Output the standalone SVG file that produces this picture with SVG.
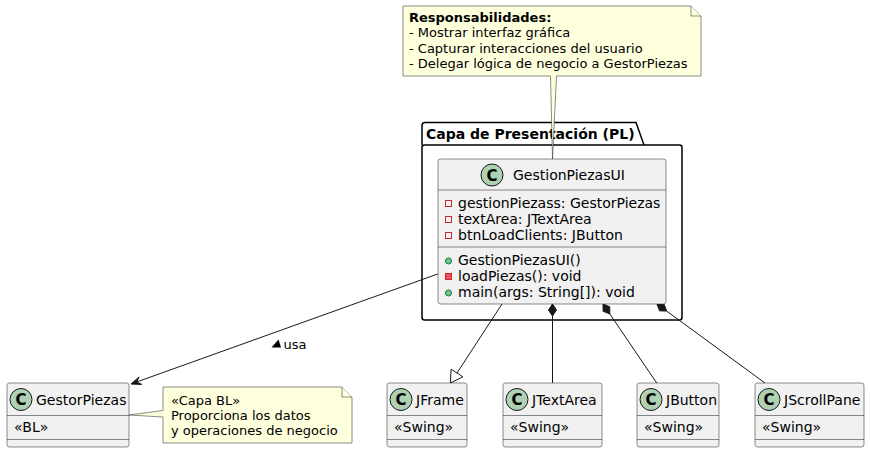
<svg xmlns="http://www.w3.org/2000/svg" width="870" height="453" viewBox="0 0 870 453">
<style>
text{font-family:"DejaVu Sans",Verdana,sans-serif;fill:#000}
.cls{fill:#F1F1F1;stroke:#181818;stroke-width:0.5}
.sep{stroke:#181818;stroke-width:0.5}
.ci{fill:#ADD1B2;stroke:#181818;stroke-width:1}
.cl{font-size:15px;font-weight:bold;text-anchor:middle}
.nm{font-size:14px}
.mb{font-size:14px}
.note{fill:#FEFFDD;stroke:#181818;stroke-width:0.5}
.nt{font-size:13px}
.ln{stroke:#181818;stroke-width:1;fill:none}
.priv{fill:none;stroke:#C82930;stroke-width:1}
.privm{fill:#F24D5C;stroke:#C82930;stroke-width:1}
.pub{fill:#84BE84;stroke:#038048;stroke-width:1}
</style>
<rect width="870" height="453" fill="#FFFFFF"/>

<g id="package-pl">
<path d="M422,145 L422,125.5 Q422,122.5 425,122.5 L636,122.5 L644,145" fill="none" stroke="#000" stroke-width="1.5"/>
<rect x="422" y="145" width="260" height="175" rx="2.5" fill="none" stroke="#000" stroke-width="1.5"/>
<text x="426" y="139" font-size="14" font-weight="bold">Capa de Presentación (PL)</text>
</g>

<g id="connectors">
<line class="ln" x1="437.7" y1="274" x2="136.6" y2="382"/>
<polygon points="131,384 139.1,376.9 136.6,382 141.8,384.4" fill="#181818" stroke="#181818" stroke-width="1"/>
<polygon points="271.5,347.5 278.5,339.5 281,347.5" fill="#000"/>
<text class="nt" x="283.5" y="349">usa</text>
<line class="ln" x1="502" y1="304" x2="457" y2="373"/>
<polygon points="450.4,383 451.1,369.2 462.9,376.8" fill="#FFFFFF" stroke="#181818" stroke-width="1"/>
<line class="ln" x1="552.5" y1="316" x2="552.5" y2="383"/>
<polygon points="552.5,304 556.5,310 552.5,316 548.5,310" fill="#181818" stroke="#181818" stroke-width="1"/>
<line class="ln" x1="609.8" y1="313.9" x2="656.7" y2="383"/>
<polygon points="603,304 609.7,306.7 609.8,313.9 603.1,311.3" fill="#181818" stroke="#181818" stroke-width="1"/>
<line class="ln" x1="666.7" y1="311.1" x2="765" y2="383"/>
<polygon points="657,304 664.2,304.3 666.7,311.1 659.5,310.8" fill="#181818" stroke="#181818" stroke-width="1"/>
</g>

<g id="GestionPiezasUI">
<rect class="cls" x="438" y="159" width="228" height="145" rx="2.5"/>
<circle class="ci" cx="492" cy="175" r="11"/>
<text class="cl" x="492" y="180.5">C</text>
<text class="nm" x="513" y="180">GestionPiezasUI</text>
<line class="sep" x1="438" y1="190" x2="666" y2="190"/>
<rect class="priv" x="445.5" y="200.5" width="6" height="6"/>
<text class="mb" x="458" y="208">gestionPiezass: GestorPiezas</text>
<rect class="priv" x="445.5" y="216.5" width="6" height="6"/>
<text class="mb" x="458" y="224">textArea: JTextArea</text>
<rect class="priv" x="445.5" y="232.5" width="6" height="6"/>
<text class="mb" x="458" y="240">btnLoadClients: JButton</text>
<line class="sep" x1="438" y1="247" x2="666" y2="247"/>
<circle class="pub" cx="448.5" cy="261" r="3"/>
<text class="mb" x="458" y="265">GestionPiezasUI()</text>
<rect class="privm" x="445.5" y="273.5" width="6" height="6"/>
<text class="mb" x="458" y="281">loadPiezas(): void</text>
<circle class="pub" cx="448.5" cy="293" r="3"/>
<text class="mb" x="458" y="297">main(args: String[]): void</text>
</g>

<g id="note-responsabilidades">
<path class="note" d="M403,6 L691,6 L701,16 L701,76 L556.5,76 L552.5,159 L550.5,76 L403,76 Z"/>
<path class="note" d="M691,6 L691,16 L701,16"/>
<text class="nt" x="409" y="22" font-weight="bold">Responsabilidades:</text>
<text class="nt" x="409" y="37.3">- Mostrar interfaz gráfica</text>
<text class="nt" x="409" y="52.6">- Capturar interacciones del usuario</text>
<text class="nt" x="409" y="67.9">- Delegar lógica de negocio a GestorPiezas</text>
</g>

<g id="GestorPiezas">
<rect class="cls" x="7" y="383" width="122" height="64" rx="2.5"/>
<circle class="ci" cx="21" cy="399.5" r="11"/>
<text class="cl" x="21" y="405">C</text>
<text class="nm" x="36" y="404.5">GestorPiezas</text>
<line class="sep" x1="7" y1="415.5" x2="129" y2="415.5"/>
<text class="mb" x="14" y="432">«BL»</text>
<line class="sep" x1="7" y1="439.5" x2="129" y2="439.5"/>
</g>

<g id="note-bl">
<path class="note" d="M163,387 L342,387 L352,397 L352,443 L163,443 L163,417 L129,415 L163,410.5 Z"/>
<path class="note" d="M342,387 L342,397 L352,397"/>
<text class="nt" x="171" y="405">«Capa BL»</text>
<text class="nt" x="171" y="420">Proporciona los datos</text>
<text class="nt" x="171" y="435">y operaciones de negocio</text>
</g>

<g id="JFrame">
<rect class="cls" x="387" y="383" width="80" height="64" rx="2.5"/>
<circle class="ci" cx="401" cy="399.5" r="11"/>
<text class="cl" x="401" y="405">C</text>
<text class="nm" x="416" y="404.5">JFrame</text>
<line class="sep" x1="387" y1="415.5" x2="467" y2="415.5"/>
<text class="mb" x="394" y="432">«Swing»</text>
<line class="sep" x1="387" y1="439.5" x2="467" y2="439.5"/>
</g>

<g id="JTextArea">
<rect class="cls" x="503" y="383" width="99" height="64" rx="2.5"/>
<circle class="ci" cx="517" cy="399.5" r="11"/>
<text class="cl" x="517" y="405">C</text>
<text class="nm" x="532" y="404.5">JTextArea</text>
<line class="sep" x1="503" y1="415.5" x2="602" y2="415.5"/>
<text class="mb" x="510" y="432">«Swing»</text>
<line class="sep" x1="503" y1="439.5" x2="602" y2="439.5"/>
</g>

<g id="JButton">
<rect class="cls" x="637" y="383" width="82" height="64" rx="2.5"/>
<circle class="ci" cx="651" cy="399.5" r="11"/>
<text class="cl" x="651" y="405">C</text>
<text class="nm" x="666" y="404.5">JButton</text>
<line class="sep" x1="637" y1="415.5" x2="719" y2="415.5"/>
<text class="mb" x="644" y="432">«Swing»</text>
<line class="sep" x1="637" y1="439.5" x2="719" y2="439.5"/>
</g>

<g id="JScrollPane">
<rect class="cls" x="755" y="383" width="109" height="64" rx="2.5"/>
<circle class="ci" cx="769" cy="399.5" r="11"/>
<text class="cl" x="769" y="405">C</text>
<text class="nm" x="784" y="404.5">JScrollPane</text>
<line class="sep" x1="755" y1="415.5" x2="864" y2="415.5"/>
<text class="mb" x="762" y="432">«Swing»</text>
<line class="sep" x1="755" y1="439.5" x2="864" y2="439.5"/>
</g>
</svg>
